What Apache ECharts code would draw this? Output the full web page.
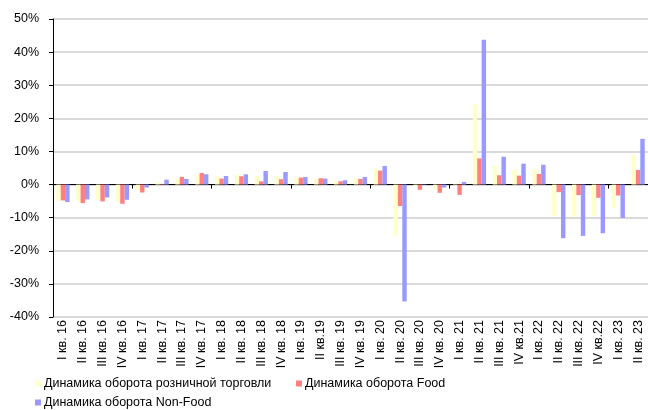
<!DOCTYPE html>
<html>
<head>
<meta charset="utf-8">
<script src="https://cdn.jsdelivr.net/npm/echarts@6/dist/echarts.min.js"></script>
<style>
html,body{margin:0;padding:0;background:#fff;}
#main{width:648px;height:410px;}
</style>
</head>
<body>
<div id="main"></div>
<script>
const categories = ["I кв. 16","II кв. 16","III кв. 16","IV кв. 16","I кв. 17","II кв. 17","III кв. 17","IV кв. 17","I кв. 18","II кв. 18","III кв. 18","IV кв. 18","I кв. 19","II кв.19","III кв. 19","IV кв. 19","I кв. 20","II кв. 20","III кв. 20","IV кв. 20","I кв. 21","II кв. 21","III кв. 21","IV кв.21","I кв. 22","II кв. 22","III кв. 22","IV кв.22","I кв. 23","II кв. 23"];
const retail = [-5.0,-5.0,-4.6,-5.2,-1.8,0.7,1.7,3.0,2.6,3.0,2.6,2.6,2.2,1.8,1.1,2.0,4.9,-15.4,-0.4,-1.7,-0.3,24.3,5.8,4.6,4.7,-9.6,-9.7,-9.6,-7.0,9.0];
const food = [-4.8,-5.6,-5.1,-5.8,-2.4,0.2,2.3,3.5,1.8,2.5,1.0,1.6,2.1,1.9,1.0,1.7,4.2,-6.5,-1.6,-2.5,-3.1,7.9,2.8,2.7,3.2,-2.3,-3.2,-4.0,-3.3,4.4];
const nonfood = [-5.3,-4.5,-3.9,-4.6,-0.9,1.5,1.7,3.1,2.6,3.1,4.1,3.8,2.3,1.8,1.3,2.3,5.6,-35.3,-0.1,-0.9,0.8,43.7,8.4,6.3,6.0,-16.2,-15.5,-14.7,-10.1,13.8];
const seriesNames = ["Динамика оборота розничной торговли","Динамика оборота Food","Динамика оборота Non-Food"];
const yTicks = {min:-40, max:50, interval:10};

const FONT = "'Liberation Sans','Roboto',sans-serif";
const colors = ["#ffffcc","#ff8080","#9999ff"];

const chart = echarts.init(document.getElementById('main'), null, {renderer:'canvas'});
const legendBase = {padding:0, itemWidth:6, itemHeight:6, icon:'rect', orient:'horizontal',
  textStyle:{fontFamily:FONT, fontSize:12.5, color:'#000', padding:[0,0,0,-2]}};
chart.setOption({
  animation:false,
  color:colors,
  grid:{left:53, right:0, top:19, bottom:93, containLabel:false},
  legend:[
    Object.assign({}, legendBase, {data:[seriesNames[0]], left:35, top:377}),
    Object.assign({}, legendBase, {data:[seriesNames[1]], left:296, top:377}),
    Object.assign({}, legendBase, {data:[seriesNames[2]], left:35, top:396})
  ],
  xAxis:[
    {type:'category', data:categories, position:'bottom',
     axisLine:{show:true, onZero:true, lineStyle:{color:'#000', width:1}},
     axisTick:{show:true, length:4, inside:false, lineStyle:{color:'#000'}},
     axisLabel:{show:false}, splitLine:{show:false}},
    {type:'category', data:categories, position:'bottom',
     axisLine:{show:false, onZero:false}, axisTick:{show:false},
     axisLabel:{show:true, rotate:90, margin:3, interval:0, fontFamily:FONT, fontSize:12.5, color:'#000'},
     splitLine:{show:false}}
  ],
  yAxis:{type:'value', min:yTicks.min, max:yTicks.max, interval:yTicks.interval,
    axisLine:{show:true, lineStyle:{color:'#000', width:1}},
    axisTick:{show:true, length:4, inside:false, lineStyle:{color:'#000'}},
    axisLabel:{formatter:'{value}%', margin:14, fontFamily:FONT, fontSize:12.5, color:'#000'},
    splitLine:{show:true, lineStyle:{color:'#d9d9d9', width:2}}},
  series:[
    {name:seriesNames[0], type:'bar', data:retail, xAxisIndex:0, barGap:'0%', barCategoryGap:'33%'},
    {name:seriesNames[1], type:'bar', data:food, xAxisIndex:0, barGap:'0%', barCategoryGap:'33%'},
    {name:seriesNames[2], type:'bar', data:nonfood, xAxisIndex:0, barGap:'0%', barCategoryGap:'33%'}
  ]
});
</script>
</body>
</html>
